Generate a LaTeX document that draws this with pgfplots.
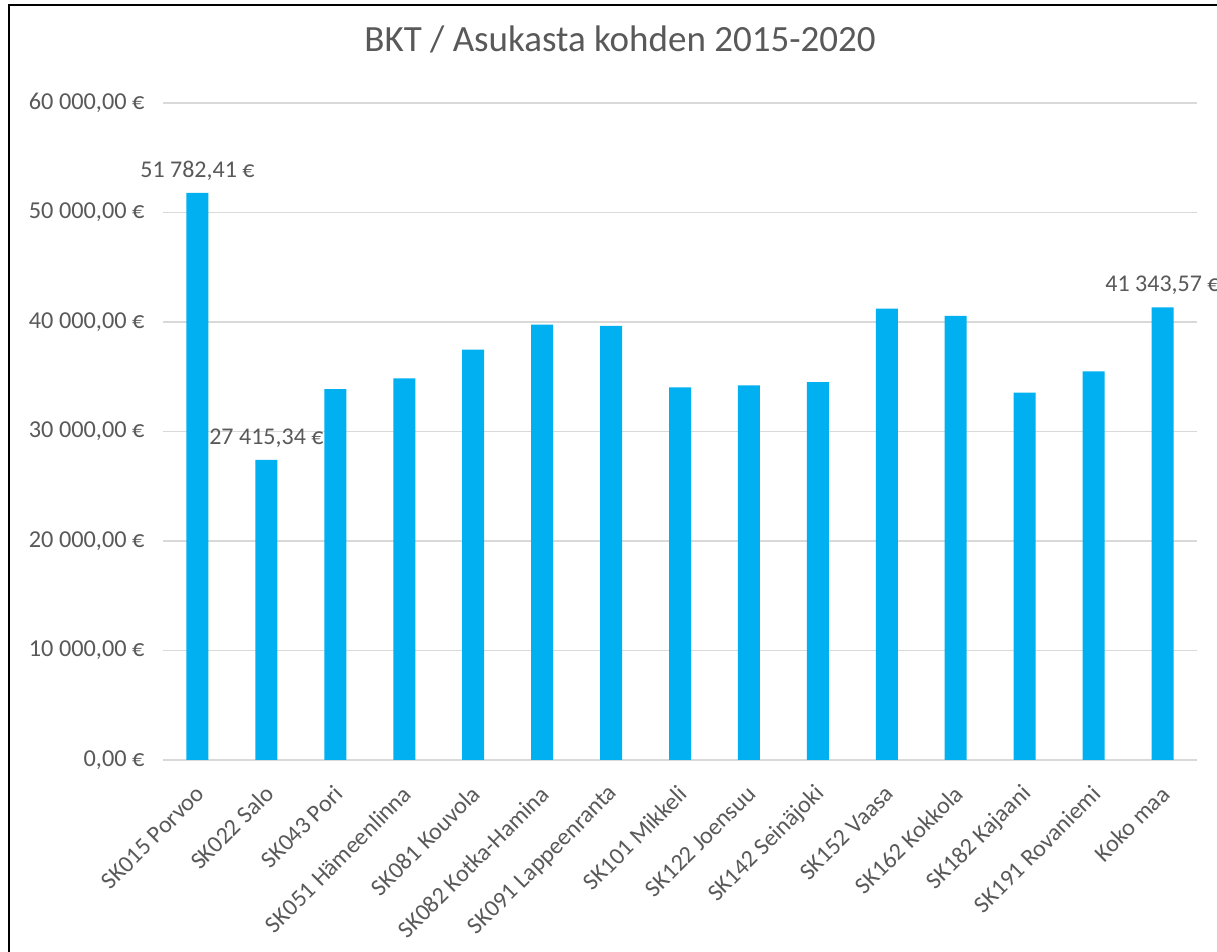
\documentclass[border=0pt]{standalone}
\usepackage{pgfplots}
\pgfplotsset{compat=1.18}
\usepackage{pgfplotstable}
\usepackage{fontspec}
\setmainfont{Carlito}
\definecolor{barblue}{HTML}{00B0F0}
\definecolor{txtgray}{HTML}{595959}
\definecolor{gridgray}{HTML}{D9D9D9}
\pgfplotstableread{
x y show
0 51782.41 1
1 27415.34 1
2 33880 0
3 34860 0
4 37480 0
5 39770 0
6 39650 0
7 34040 0
8 34220 0
9 34500 0
10 41210 0
11 40570 0
12 33540 0
13 35500 0
14 41343.57 1
}\datatable
\begin{document}
\begin{tikzpicture}[x=1pt,y=1pt]
\useasboundingbox (0,0) rectangle (1217,952);
\fill[white] (0,0) rectangle (1217,952);
\draw[line width=2pt, black] (9,-2) -- (9,947) -- (1220,947);
\node[font=\fontsize{37}{44}\selectfont, text=txtgray, anchor=base] at (620,900) {BKT / Asukasta kohden 2015-2020};
\begin{axis}[
  at={(163pt,192pt)}, anchor=south west,
  scale only axis, width=1034pt, height=657pt,
  ymin=0, ymax=60000, xmin=-0.5, xmax=14.5,
  ytick={0,10000,...,60000},
  xtick={0,...,14},
  xticklabels={SK015 Porvoo, SK022 Salo, SK043 Pori, SK051 Hämeenlinna, SK081 Kouvola, SK082 Kotka-Hamina, SK091 Lappeenranta, SK101 Mikkeli, SK122 Joensuu, SK142 Seinäjoki, SK152 Vaasa, SK162 Kokkola, SK182 Kajaani, SK191 Rovaniemi, Koko maa},
  axis line style={draw=none},
  major tick length=0pt,
  ymajorgrids, grid style={draw=gridgray, line width=1.5pt},
  /pgf/number format/assume math mode=true,
  yticklabel={\pgfmathprintnumber[fixed, fixed zerofill, precision=2, use comma, 1000 sep={\ }]{\tick}~€},
  yticklabel style={font=\fontsize{24.3}{29}\selectfont, text=txtgray, xshift=-15pt},
  xticklabel style={font=\fontsize{24}{29}\selectfont, text=txtgray, xshift=3pt, yshift=-30pt, rotate=45, anchor=east, inner sep=0pt},
  scaled y ticks=false,
  clip=false,
  ybar, bar width=22pt, bar shift=0pt,
  unbounded coords=discard,
]
\addplot[fill=barblue, draw=none] table[x=x, y=y] {\datatable};
\addplot[draw=none, fill=none,
  y filter/.expression={\thisrow{show}>0.5 ? y : nan},
  nodes near coords={\pgfmathprintnumber[fixed, fixed zerofill, precision=2, use comma, 1000 sep={\ }]{\pgfplotspointmeta}~€},
  nodes near coords style={font=\fontsize{24}{29}\selectfont, text=txtgray, yshift=9pt},
] table[x=x, y=y] {\datatable};
\end{axis}
\end{tikzpicture}
\end{document}
